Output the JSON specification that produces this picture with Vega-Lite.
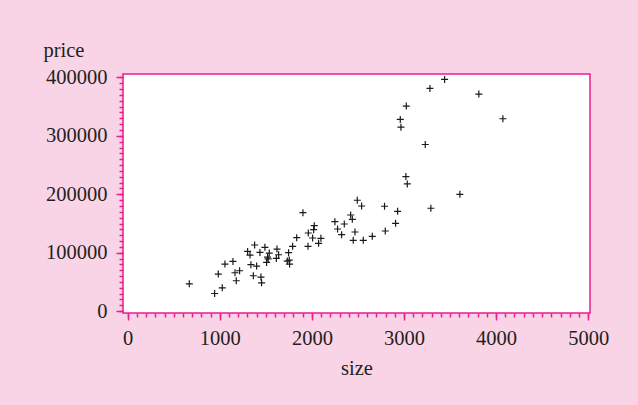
{
  "$schema": "https://vega.github.io/schema/vega-lite/v6.json",
  "width": 467,
  "height": 239,
  "autosize": {"type": "none"},
  "padding": {"left": 123, "top": 74, "right": 48, "bottom": 92},
  "background": "#f9d4e6",
  "config": {
    "view": {"fill": "white", "stroke": "#ec1c8c", "strokeWidth": 1.5},
    "font": "Liberation Serif",
    "axis": {
      "labelFont": "Liberation Serif",
      "titleFont": "Liberation Serif",
      "labelColor": "#231f20",
      "titleColor": "#231f20",
      "labelFontSize": 20.5,
      "titleFontSize": 20.5,
      "titleFontWeight": "normal",
      "tickColor": "#ec1c8c",
      "tickWidth": 1.5,
      "domain": false,
      "grid": false
    }
  },
  "data": {
    "values": [
      {"size": 669, "price": 46900},
      {"size": 944, "price": 30300},
      {"size": 984, "price": 63500},
      {"size": 1027, "price": 40000},
      {"size": 1056, "price": 80600},
      {"size": 1143, "price": 85200},
      {"size": 1165, "price": 65800},
      {"size": 1179, "price": 52100},
      {"size": 1215, "price": 69200},
      {"size": 1302, "price": 102300},
      {"size": 1328, "price": 96000},
      {"size": 1338, "price": 79500},
      {"size": 1364, "price": 60600},
      {"size": 1378, "price": 113200},
      {"size": 1400, "price": 77200},
      {"size": 1436, "price": 100600},
      {"size": 1447, "price": 58300},
      {"size": 1454, "price": 48600},
      {"size": 1490, "price": 109200},
      {"size": 1508, "price": 83500},
      {"size": 1519, "price": 92600},
      {"size": 1537, "price": 99500},
      {"size": 1525, "price": 89500},
      {"size": 1621, "price": 106300},
      {"size": 1614, "price": 90300},
      {"size": 1639, "price": 96600},
      {"size": 1747, "price": 100100},
      {"size": 1733, "price": 85800},
      {"size": 1754, "price": 87500},
      {"size": 1758, "price": 80600},
      {"size": 1791, "price": 110900},
      {"size": 1835, "price": 125800},
      {"size": 1903, "price": 168600},
      {"size": 1958, "price": 110900},
      {"size": 1961, "price": 133800},
      {"size": 2008, "price": 125200},
      {"size": 2019, "price": 139500},
      {"size": 2026, "price": 146300},
      {"size": 2073, "price": 116100},
      {"size": 2098, "price": 124600},
      {"size": 2250, "price": 153200},
      {"size": 2279, "price": 140600},
      {"size": 2323, "price": 130900},
      {"size": 2352, "price": 149200},
      {"size": 2421, "price": 164600},
      {"size": 2439, "price": 157200},
      {"size": 2468, "price": 135500},
      {"size": 2449, "price": 121200},
      {"size": 2493, "price": 189800},
      {"size": 2540, "price": 180000},
      {"size": 2558, "price": 121200},
      {"size": 2656, "price": 128000},
      {"size": 3441, "price": 396600},
      {"size": 3282, "price": 381200},
      {"size": 3813, "price": 371500},
      {"size": 3025, "price": 350900},
      {"size": 2960, "price": 328000},
      {"size": 2967, "price": 314900},
      {"size": 4074, "price": 329200},
      {"size": 3231, "price": 285200},
      {"size": 3021, "price": 230300},
      {"size": 3036, "price": 217800},
      {"size": 3607, "price": 200000},
      {"size": 2789, "price": 179500},
      {"size": 2931, "price": 170900},
      {"size": 3292, "price": 176100},
      {"size": 2797, "price": 137200},
      {"size": 2909, "price": 150300}
    ]
  },
  "layer": [
    {
      "mark": {"type": "point", "opacity": 0},
      "encoding": {
        "x": {
          "field": "size", "type": "quantitative",
          "scale": {"domain": [-51, 5020], "nice": false, "zero": false},
          "axis": {
            "orient": "bottom",
            "values": [0,100,200,300,400,500,600,700,800,900,1000,1100,1200,1300,1400,1500,1600,1700,1800,1900,2000,2100,2200,2300,2400,2500,2600,2700,2800,2900,3000,3100,3200,3300,3400,3500,3600,3700,3800,3900,4000,4100,4200,4300,4400,4500,4600,4700,4800,4900,5000],
            "tickSize": 4, "labels": false, "title": null
          }
        },
        "y": {
          "field": "price", "type": "quantitative",
          "scale": {"domain": [-3100, 405800], "nice": false, "zero": false},
          "axis": {
            "orient": "left",
            "values": [0,10000,20000,30000,40000,50000,60000,70000,80000,90000,100000,110000,120000,130000,140000,150000,160000,170000,180000,190000,200000,210000,220000,230000,240000,250000,260000,270000,280000,290000,300000,310000,320000,330000,340000,350000,360000,370000,380000,390000,400000],
            "tickSize": 4, "labels": false, "title": null
          }
        }
      }
    },
    {
      "mark": {
        "type": "point",
        "shape": "M-1,0H1M0,-1V1",
        "size": 49,
        "filled": false,
        "stroke": "#1a1a1a",
        "strokeWidth": 1.2,
        "opacity": 1
      },
      "encoding": {
        "x": {
          "field": "size", "type": "quantitative",
          "axis": {
            "orient": "bottom",
            "values": [0, 1000, 2000, 3000, 4000, 5000],
            "format": "d",
            "tickSize": 7,
            "labelPadding": 8,
            "title": "size",
            "titlePadding": 10
          }
        },
        "y": {
          "field": "price", "type": "quantitative",
          "axis": {
            "orient": "left",
            "values": [0, 100000, 200000, 300000, 400000],
            "format": "d",
            "tickSize": 7,
            "labelPadding": 9,
            "title": "price",
            "titleAngle": 0,
            "titleAlign": "left",
            "titleBaseline": "alphabetic",
            "titleX": -80,
            "titleY": -18
          }
        }
      }
    }
  ],
  "resolve": {"axis": {"x": "independent", "y": "independent"}}
}
